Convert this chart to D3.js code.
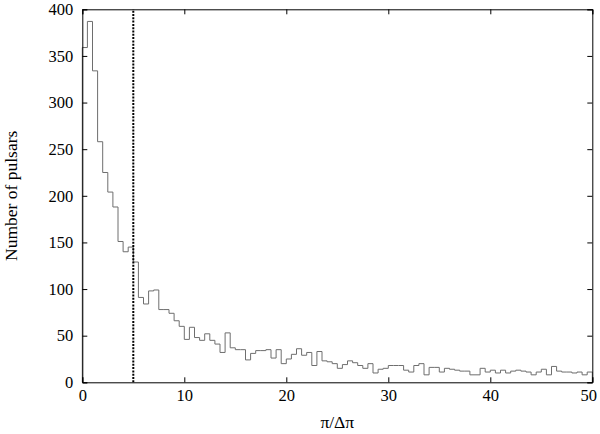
<!DOCTYPE html>
<html>
<head>
<meta charset="utf-8">
<script src="https://cdn.jsdelivr.net/npm/d3@7"></script>
<style>
html, body { margin: 0; padding: 0; background: #fff; }
svg text { font-family: "Liberation Serif", "Times New Roman", serif; fill: #000; }
</style>
</head>
<body>
<svg id="chart" width="600" height="434"></svg>
<script>
// Data: histogram of pi/Delta-pi, bin width 0.5 from 0 to 50
const binWidth = 0.5;
const binStart = 0;
const counts = [
  359, 387, 334, 258, 225, 204, 188, 151, 140, 145,
  129, 91, 84, 98, 99, 78, 78, 74, 66, 60,
  46, 59, 48, 45, 52, 45, 41, 32, 53, 37,
  35, 35, 24, 31, 34, 34, 35, 26, 35, 20,
  25, 30, 36, 29, 32, 18, 33, 23, 22, 20,
  15, 19, 23, 21, 18, 15, 20, 10, 14, 15,
  18, 18, 18, 13, 11, 18, 20, 8, 16, 16,
  11, 15, 14, 13, 12, 12, 8, 8, 15, 11,
  13, 10, 13, 10, 12, 13, 12, 11, 8, 11,
  14, 8, 17, 12, 11, 11, 10, 11, 8, 11
];
const xTicks = [0, 10, 20, 30, 40, 50];
const yTicks = [0, 50, 100, 150, 200, 250, 300, 350, 400];
const cutoff = [5];
const xLabel = "π/Δπ";
const yLabel = "Number of pulsars";

(function () {
const svg = d3.select("#chart");
const mLeft = 82.3, mRight = 592.3, mTop = 9.3, mBottom = 382.3;

const x = d3.scaleLinear().domain([0, 50]).range([mLeft, mRight]);
const y = d3.scaleLinear().domain([0, 400]).range([mBottom, mTop]);

// histogram step line
const pts = [[binStart, 0]];
counts.forEach((c, i) => pts.push([binStart + i * binWidth, c]));
pts.push([binStart + counts.length * binWidth, counts[counts.length - 1]]);
pts.push([binStart + counts.length * binWidth, 0]);

const line = d3.line()
  .x(d => x(d[0]))
  .y(d => y(d[1]))
  .curve(d3.curveStepAfter);

svg.append("path")
  .datum(pts)
  .attr("d", line)
  .attr("fill", "none")
  .attr("stroke", "#6e6e6e")
  .attr("stroke-width", 1);

// dotted cutoff line
svg.selectAll("line.cut")
  .data(cutoff)
  .enter().append("line")
  .attr("class", "cut")
  .attr("x1", d => x(d)).attr("x2", d => x(d))
  .attr("y1", y(0)).attr("y2", y(400))
  .attr("stroke", "#000")
  .attr("stroke-width", 2)
  .attr("stroke-dasharray", "2,1.3");

// axes (inward ticks, mirrored)
const tl = 5;
const tickFont = 16.5;
const titleFont = 17.5;
const axB = svg.append("g").attr("transform", `translate(0,${mBottom})`)
  .call(d3.axisBottom(x).tickValues(xTicks).tickSize(-tl).tickPadding(7).tickFormat(d3.format("d")));
const axT = svg.append("g").attr("transform", `translate(0,${mTop})`)
  .call(d3.axisTop(x).tickValues(xTicks).tickSize(-tl).tickFormat(""));
const axL = svg.append("g").attr("transform", `translate(${mLeft},0)`)
  .call(d3.axisLeft(y).tickValues(yTicks).tickSize(-tl).tickPadding(9).tickFormat(d3.format("d")));
const axR = svg.append("g").attr("transform", `translate(${mRight},0)`)
  .call(d3.axisRight(y).tickValues(yTicks).tickSize(-tl).tickFormat(""));

[axB, axT, axL, axR].forEach(a => {
  a.select(".domain").attr("stroke", "#000").attr("stroke-width", 1);
  a.selectAll(".tick line").attr("stroke", "#000").attr("stroke-width", 1);
  a.selectAll("text").attr("font-family", "Liberation Serif, serif").attr("font-size", tickFont).attr("fill", "#000");
});
// keep the last x label inside the page
axB.selectAll(".tick text").filter(d => d === xTicks[xTicks.length - 1]).attr("dx", -4);

// axis titles
svg.append("text")
  .attr("x", (mLeft + mRight) / 2)
  .attr("y", 428)
  .attr("text-anchor", "middle")
  .attr("font-size", titleFont)
  .text(xLabel);

svg.append("text")
  .attr("transform", `translate(17,${(mTop + mBottom) / 2}) rotate(-90)`)
  .attr("text-anchor", "middle")
  .attr("font-size", titleFont)
  .text(yLabel);
})();
</script>
</body>
</html>
